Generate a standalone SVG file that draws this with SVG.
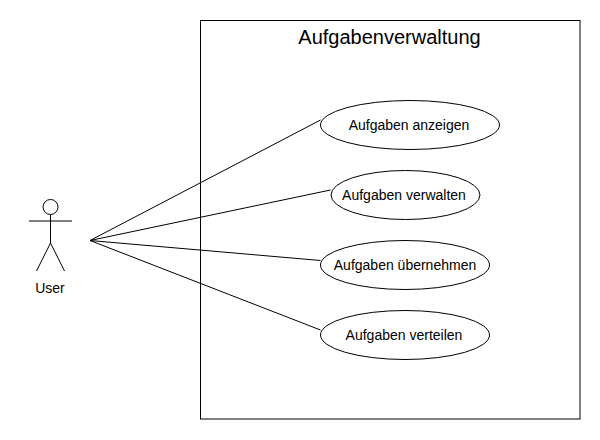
<svg xmlns="http://www.w3.org/2000/svg" width="600" height="440" viewBox="0 0 600 440">
<style>
text{font-family:"Liberation Sans",Arial,sans-serif;font-size:14px;fill:#000;text-anchor:middle}
.s{fill:#fff;stroke:#000;stroke-width:1}
.l{fill:none;stroke:#000;stroke-width:1}
</style>
<rect width="600" height="440" fill="#fff"/>
<g id="system"><rect class="s" x="200.500" y="20.500" width="379.500" height="398.500"/><text x="389.500" y="44" style="font-size:20px">Aufgabenverwaltung</text></g>
<g id="connectors">
<path class="l" d="M90 240.500L320.500 120M90 240.500L330.500 190M90 240.500L320.500 260.500M90 240.500L320.500 330"/>
</g>
<g id="user"><circle class="s" cx="50.500" cy="207" r="7.500"/><path class="l" d="M50.500 214.500V243M29 221H72M50.500 243L36.500 271M50.500 243L64.500 271"/><text x="50" y="293">User</text></g>
<g id="uc1"><ellipse class="s" cx="410" cy="125" rx="89.500" ry="24.500"/><text x="409" y="130">Aufgaben anzeigen</text></g>
<g id="uc2"><ellipse class="s" cx="405.500" cy="195" rx="74.500" ry="24.500"/><text x="404" y="200">Aufgaben verwalten</text></g>
<g id="uc3"><ellipse class="s" cx="405" cy="265" rx="84.500" ry="24.500"/><text x="405" y="270">Aufgaben übernehmen</text></g>
<g id="uc4"><ellipse class="s" cx="405" cy="335" rx="84.500" ry="24.500"/><text x="404" y="340">Aufgaben verteilen</text></g>
</svg>
